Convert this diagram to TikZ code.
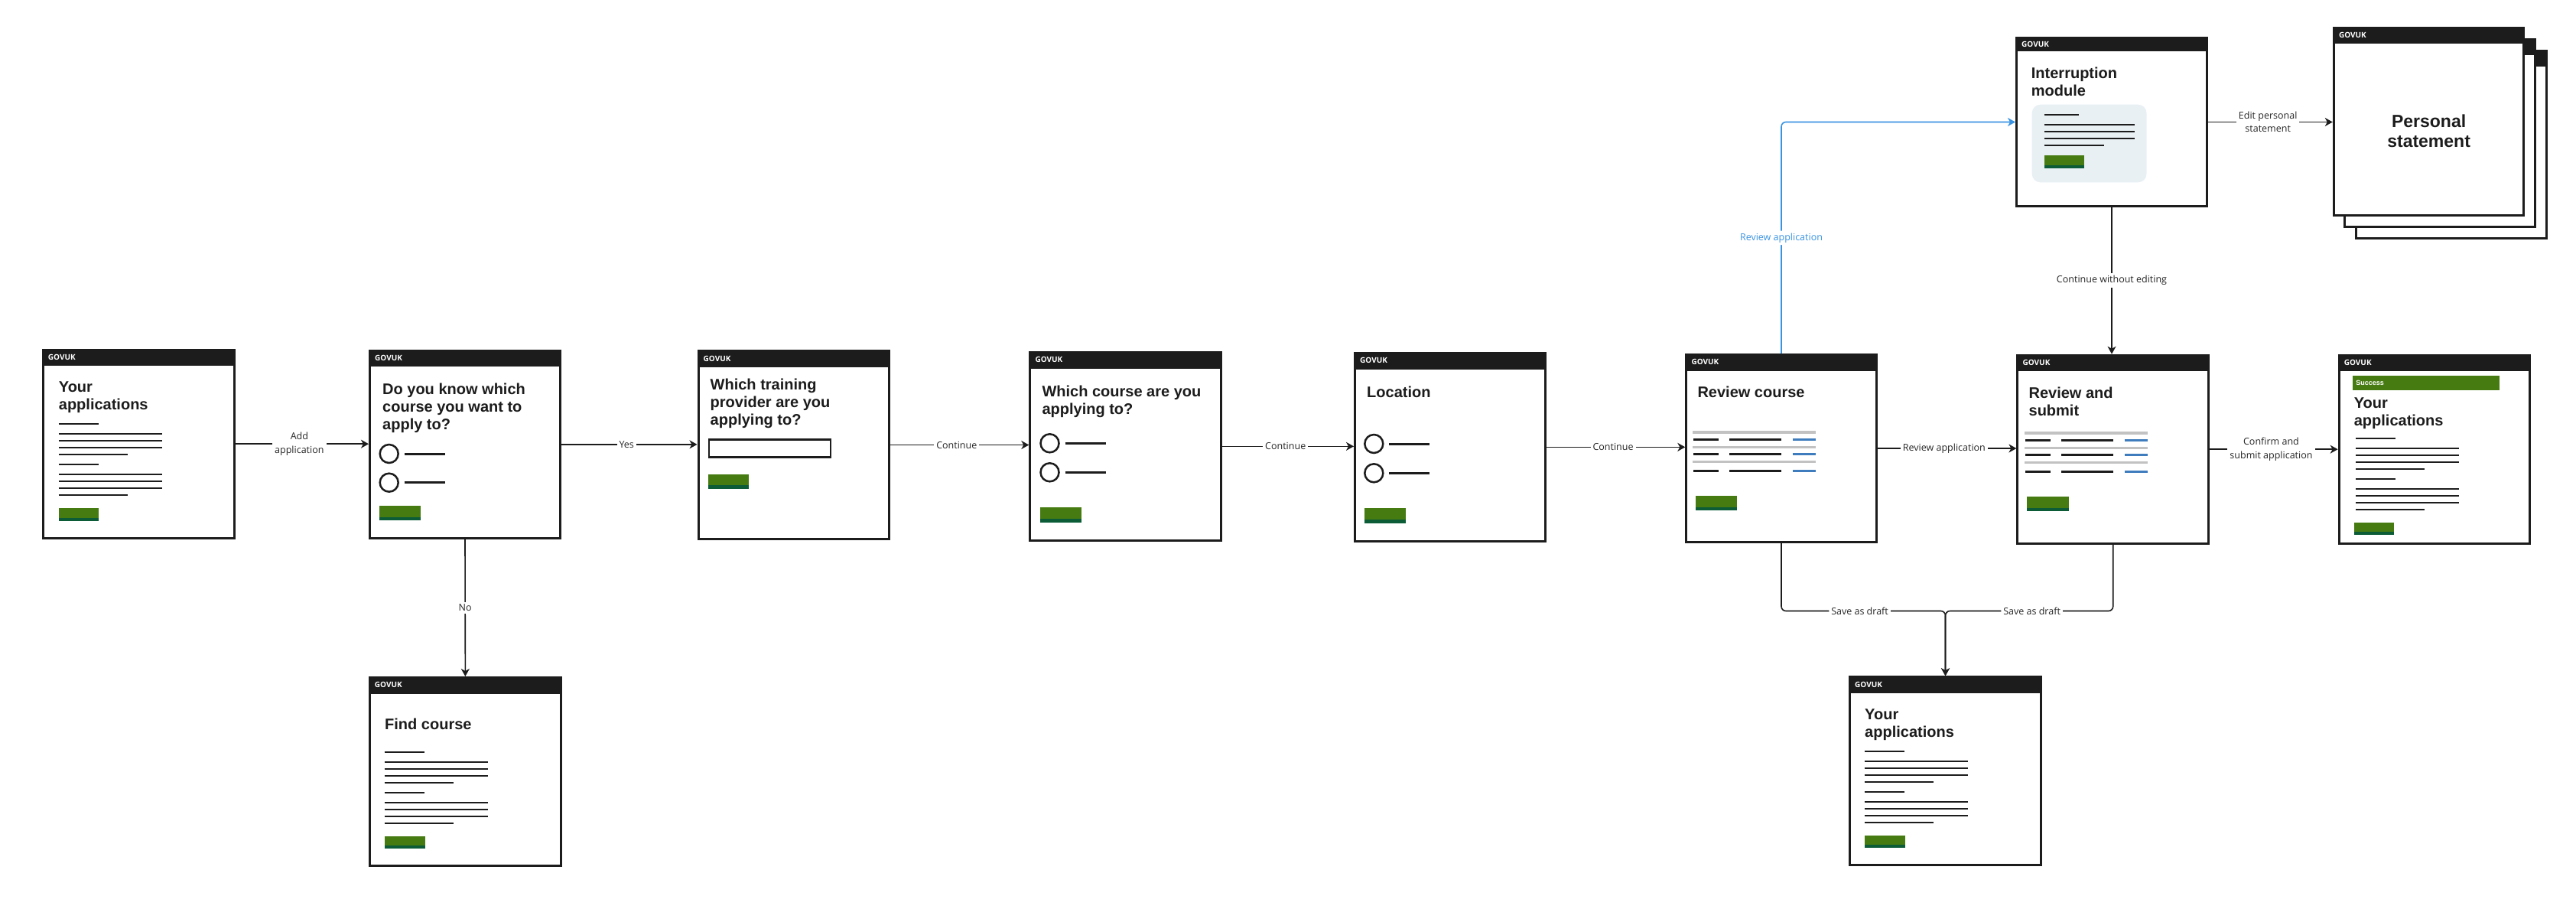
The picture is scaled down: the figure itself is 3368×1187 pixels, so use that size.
\documentclass[tikz,border=0pt]{standalone}
\usepackage{fontspec}
\setmainfont{Liberation Sans}
\newfontfamily\lblfamily{Open Sans}
\usetikzlibrary{arrows.meta}

\definecolor{ink}{HTML}{1C1C1C}
\definecolor{btngreen}{HTML}{467B12}
\definecolor{btnshade}{HTML}{0C5C37}
\definecolor{sumgray}{HTML}{C2C2C2}
\definecolor{linkblue}{HTML}{3F7CBD}
\definecolor{flowblue}{HTML}{3993E2}
\definecolor{panelbg}{HTML}{E8F0F4}
\definecolor{lbltext}{HTML}{262626}

\newcommand\titlefont{\bfseries\fontsize{20}{23}\selectfont}
\newcommand\bigtitlefont{\bfseries\fontsize{23}{26.5}\selectfont}
\newcommand\headfont{\lblfamily\bfseries\fontsize{10}{11}\selectfont}
\newcommand\lblfont{\lblfamily\fontsize{12.5}{17.5}\selectfont}

% frame of one screen: name, outer width, outer height, header height
\newcommand\screenframe[4]{%
  \node[screen, minimum width=#2-3, minimum height=#3-3] (#1) at (0,0) {};
  \fill[ink] (0,0) rectangle (#2,#4);
  \node[headtxt] at (8,#4/2) {GOVUK};
}
% body copy: two paragraphs of placeholder lines
\newcommand\textblock[2]{%
  \draw[txt] (#1,#2) -- ++(52,0);
  \draw[txt] (#1,#2+13) -- ++(135,0);
  \draw[txt] (#1,#2+22) -- ++(135,0);
  \draw[txt] (#1,#2+31) -- ++(135,0);
  \draw[txt] (#1,#2+40) -- ++(90,0);
  \draw[txt] (#1,#2+53) -- ++(52,0);
  \draw[txt] (#1,#2+66) -- ++(135,0);
  \draw[txt] (#1,#2+75) -- ++(135,0);
  \draw[txt] (#1,#2+84) -- ++(135,0);
  \draw[txt] (#1,#2+93) -- ++(90,0);
}
% green button: x, y, width, height
\newcommand\govbutton[4]{%
  \fill[btngreen] (#1,#2) rectangle ++(#3,#4);
  \fill[btnshade] (#1,#2+#4-4.3) rectangle ++(#3,4.3);
}
% radio option with its label line
\newcommand\radioitem[2]{%
  \draw[ink, line width=2.5pt] (#1,#2) circle[radius=12];
  \draw[ink, line width=3pt] (#1+20,#2) -- ++(53,0);
}
% summary list of three rows
\newcommand\summarylist[2]{%
  \foreach \dy/\ry in {0/9.7, 19.3/28.7, 38.7/50.3} {
    \draw[sumgray, line width=3.5pt] (#1,#2+\dy) -- ++(161,0);
    \draw[ink, line width=2.5pt] (#1+1,#2+\ry) -- ++(33,0);
    \draw[ink, line width=2.5pt] (#1+48,#2+\ry) -- ++(68,0);
    \draw[linkblue, line width=2.5pt] (#1+130.5,#2+\ry) -- ++(30,0);
  }
}

\begin{document}
\begin{tikzpicture}[x=1pt, y=-1pt,
  screen/.style={draw=ink, line width=3pt, fill=white, rectangle, inner sep=0pt, anchor=north west},
  headtxt/.style={text=white, font=\headfont, anchor=west, inner sep=0pt},
  title/.style={font=\titlefont, text=ink, anchor=north west, align=left, inner sep=0pt},
  txt/.style={draw=ink, line width=2.2pt},
  flow/.style={draw=ink, line width=1.6pt, -{Stealth[length=10pt, width=11pt, inset=3pt]}},
  blueflow/.style={flow, draw=flowblue},
  lbl/.style={fill=white, font=\lblfont, text=lbltext, align=center, inner sep=3pt},
]
\useasboundingbox[fill=white] (0,0) rectangle (3368,1187);

% Your applications
\begin{scope}[shift={(54.7,455.7)}]
  \screenframe{s1}{253}{249}{22.5}
  \node[title] at (22,43.3) {Your\\applications};
  \textblock{22}{98.6}
  \govbutton{22}{208.6}{52}{16.5}
\end{scope}

% Do you know which course
\begin{scope}[shift={(482,456.7)}]
  \screenframe{s2}{252}{248.3}{22.5}
  \node[title] at (18,44.3) {Do you know which\\course you want to\\apply to?};
  \radioitem{26.7}{136.3}
  \radioitem{26.7}{174}
  \govbutton{14}{204}{54}{19.3}
\end{scope}

% Which training provider
\begin{scope}[shift={(911.5,457.3)}]
  \screenframe{s3}{252}{248.4}{22.5}
  \node[title] at (17,37.7) {Which training\\provider are you\\applying to?};
  \draw[ink, line width=2.5pt] (15.5,117) rectangle (174.5,140);
  \govbutton{14.5}{162.7}{53.4}{18.7}
\end{scope}

% Which course
\begin{scope}[shift={(1345.3,459)}]
  \screenframe{s4}{253}{248.7}{22.5}
  \node[title] at (17,44.3) {Which course are you\\applying to?};
  \radioitem{27.2}{120.3}
  \radioitem{27.2}{158.3}
  \govbutton{14.7}{204.3}{54}{19.4}
\end{scope}

% Location
\begin{scope}[shift={(1770,460)}]
  \screenframe{s5}{252}{248.7}{22.5}
  \node[title] at (17,44.3) {Location};
  \radioitem{26.3}{120}
  \radioitem{26.3}{158.3}
  \govbutton{13.6}{204.3}{54.4}{19.4}
\end{scope}

% Review course
\begin{scope}[shift={(2203.3,462)}]
  \screenframe{s6}{251.4}{248}{22.5}
  \node[title] at (16,43) {Review course};
  \summarylist{10}{103}
  \govbutton{13.4}{186.3}{54.6}{19}
\end{scope}

% Review and submit
\begin{scope}[shift={(2636.4,462.7)}]
  \screenframe{s7}{252.6}{249}{22.5}
  \node[title] at (16,43) {Review and\\submit};
  \summarylist{10.6}{103.3}
  \govbutton{13.6}{186.6}{54.7}{19}
\end{scope}

% Your applications after submitting
\begin{scope}[shift={(3056.6,462.7)}]
  \screenframe{s8}{252.6}{249}{22.5}
  \fill[btngreen] (19.4,28) rectangle (211.4,47);
  \node[text=white, font=\bfseries\fontsize{9}{10}\selectfont, anchor=west, inner sep=0pt] (s8ok) at (23.5,37.5) {Success};
  \node[title] at (21,56.6) {Your\\applications};
  \textblock{23.4}{110.6}
  \govbutton{21}{220.6}{52}{16}
\end{scope}

% Interruption module
\begin{scope}[shift={(2635,48.3)}]
  \screenframe{s9}{252}{222.4}{18.5}
  \node[title] at (20.7,40) {Interruption\\module};
  \fill[panelbg, rounded corners=11pt] (21.7,88.4) rectangle (171.5,190);
  \draw[txt] (37.7,102) -- ++(45.6,0);
  \draw[txt] (37.7,115) -- ++(117.8,0);
  \draw[txt] (37.7,124) -- ++(117.8,0);
  \draw[txt] (37.7,133) -- ++(117.8,0);
  \draw[txt] (37.7,142) -- ++(78,0);
  \govbutton{37.7}{155}{52.3}{17}
\end{scope}

% Personal statement, a stack of pages
\foreach \ox/\oy in {3079/65, 3063.9/50} {
  \begin{scope}[shift={(\ox,\oy)}]
    \filldraw[fill=white, draw=ink, line width=3pt] (1.5,1.5) rectangle (250.1,246.8);
    \fill[ink] (0,0) rectangle (251.6,22);
  \end{scope}
}
\begin{scope}[shift={(3049.8,35)}]
  \screenframe{s10}{251.6}{248.3}{22}
  \node[font=\bigtitlefont, text=ink, align=center, anchor=north, inner sep=0pt] at (125.8,114.3) {Personal\\statement};
\end{scope}

% Find course
\begin{scope}[shift={(481.7,884)}]
  \screenframe{s11}{253.3}{249}{22.5}
  \node[title] at (21.3,55) {Find course};
  \textblock{21}{98.7}
  \govbutton{21.5}{208.7}{52.3}{16.6}
\end{scope}

% Your applications with a saved draft
\begin{scope}[shift={(2417,883.3)}]
  \screenframe{s12}{253}{248.7}{22.5}
  \node[title] at (21,43.4) {Your\\applications};
  \textblock{20.5}{98.4}
  \govbutton{21}{208.4}{52.5}{16.6}
\end{scope}

% Connectors
\draw[flow] (s1.east) -- node[lbl, pos=0.48] {Add\\application} (s1.east -| s2.west);
\draw[flow] (s2.east) -- node[lbl, pos=0.48] {Yes} (s2.east -| s3.west);
\draw[flow] (s3.east) -- node[lbl, pos=0.48] {Continue} (s3.east -| s4.west);
\draw[flow] (s4.east) -- node[lbl, pos=0.48] {Continue} (s4.east -| s5.west);
\draw[flow] (s5.east) -- node[lbl, pos=0.48] {Continue} (s5.east -| s6.west);
\draw[flow] (s6.east) -- node[lbl, pos=0.48] {Review application} (s6.east -| s7.west);
\draw[flow] (s7.east) -- node[lbl, pos=0.48] {Confirm and\\submit application} (s7.east -| s8.west);
\draw[flow] (s9.east) -- node[lbl, pos=0.48] {Edit personal\\statement} (s9.east -| s10.west);
\draw[flow] (s2.south) -- node[lbl] {No} (s11.north);
\draw[flow] (s9.south) -- node[lbl] {Continue without editing} (s9.south |- s7.north);
\draw[blueflow, rounded corners=6pt] (s6.north) -- node[lbl, text=flowblue] {Review application} (s6.north |- s9.west) -- (s9.west);

\coordinate (draftrow) at (0,798.5);
\draw[flow, rounded corners=6pt] (s6.south) -- (s6.south |- draftrow) -- node[lbl, pos=0.478] {Save as draft} (s12.north |- draftrow) -- (s12.north);
\draw[flow, rounded corners=6pt] (s7.south) -- (s7.south |- draftrow) -- node[lbl, pos=0.484] {Save as draft} (s12.north |- draftrow) -- (s12.north);
\end{tikzpicture}
\end{document}
